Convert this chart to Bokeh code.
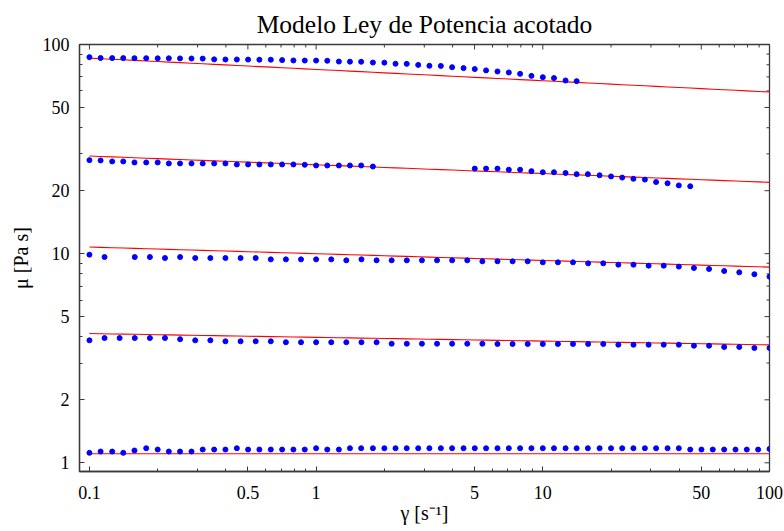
import math
from bokeh.plotting import figure
from bokeh.models import FixedTicker, Range1d, Title
from bokeh.embed import file_html
from bokeh.resources import INLINE

# shear-rate grids (20 and 15 points per decade)
x20 = [0.1, 0.112, 0.126, 0.141, 0.158, 0.178, 0.2, 0.224, 0.251, 0.282,
       0.316, 0.355, 0.398, 0.447, 0.501, 0.562, 0.631, 0.708, 0.794, 0.891,
       1.0, 1.12, 1.26, 1.41, 1.58, 1.78, 2.0, 2.24, 2.51, 2.82,
       3.16, 3.55, 3.98, 4.47, 5.01, 5.62, 6.31, 7.08, 7.94, 8.91,
       10.0, 11.2, 12.6, 14.1, 15.8, 17.8, 20.0, 22.4, 25.1, 28.2,
       31.6, 35.5, 39.8, 44.7, 50.1, 56.2, 63.1, 70.8, 79.4, 89.1, 100.0]
x15 = [0.1, 0.1166, 0.1359, 0.1585, 0.1848, 0.2154, 0.2512, 0.2929, 0.3415, 0.3981,
       0.4642, 0.5412, 0.631, 0.7356, 0.8577, 1.0, 1.166, 1.359, 1.585, 1.848,
       2.154, 2.512, 2.929, 3.415, 3.981, 4.642, 5.412, 6.31, 7.356, 8.577,
       10.0, 11.66, 13.59, 15.85, 18.48, 21.54, 25.12, 29.29, 34.15, 39.81,
       46.42, 54.12, 63.1, 73.56, 85.77, 100.0]

# series 1 (top)
g1 = x20[0:44]
mu1 = [87.0, 86.2, 86.1, 86.1, 86.0, 86.0, 85.9, 85.9, 85.8, 85.7,
       85.6, 84.9, 84.8, 84.8, 84.7, 84.6, 84.6, 84.2, 83.9, 83.8,
       83.8, 83.6, 82.9, 82.8, 82.7, 82.0, 81.9, 80.9, 80.8, 79.9,
       79.1, 79.0, 77.9, 77.1, 76.3, 75.2, 74.3, 73.5, 72.4, 70.8,
       69.8, 69.1, 67.3, 66.8]
# series 2 (two segments)
g2 = x20[0:26] + x20[34:54]
mu2 = [28.0, 27.9, 27.6, 27.6, 27.3, 27.3, 27.3, 27.0, 27.0, 27.0,
       27.0, 27.0, 27.0, 26.7, 26.7, 26.7, 26.7, 26.7, 26.7, 26.6,
       26.4, 26.4, 26.4, 26.4, 26.4, 26.1,
       25.5, 25.5, 25.5, 25.2, 25.2, 24.8, 24.5, 24.5, 24.3, 24.0,
       24.0, 23.7, 23.4, 23.1, 22.8, 22.6, 22.0, 21.7, 21.2, 21.0]
# series 3
g3 = x15[0:2] + x15[3:46]
mu3 = [9.89, 9.63, 9.63, 9.63, 9.53, 9.63, 9.53, 9.53, 9.53, 9.53,
       9.53, 9.39, 9.39, 9.39, 9.39, 9.39, 9.29, 9.39, 9.29, 9.29,
       9.29, 9.29, 9.29, 9.29, 9.29, 9.19, 9.19, 9.19, 9.19, 9.09,
       9.09, 9.09, 8.99, 8.99, 8.86, 8.86, 8.76, 8.76, 8.67, 8.54,
       8.45, 8.26, 8.14, 7.97, 7.76]
# series 4
g4 = x15
mu4 = [3.85, 3.95, 3.95, 3.95, 3.95, 3.95, 3.90, 3.85, 3.85, 3.81,
       3.81, 3.81, 3.81, 3.77, 3.77, 3.77, 3.77, 3.77, 3.77, 3.77,
       3.71, 3.71, 3.71, 3.71, 3.71, 3.71, 3.71, 3.70, 3.70, 3.70,
       3.70, 3.70, 3.70, 3.70, 3.70, 3.67, 3.67, 3.67, 3.67, 3.67,
       3.63, 3.63, 3.58, 3.58, 3.54, 3.54]
# series 5 (bottom)
g5 = x20
mu5 = [1.116, 1.132, 1.132, 1.116, 1.145, 1.174, 1.157, 1.132, 1.132, 1.132,
       1.157, 1.157, 1.157, 1.174, 1.157, 1.157, 1.157, 1.157, 1.157, 1.157,
       1.174, 1.157, 1.157, 1.174, 1.174, 1.174, 1.174, 1.174, 1.174, 1.174,
       1.174, 1.174, 1.174, 1.174, 1.174, 1.174, 1.174, 1.174, 1.174, 1.174,
       1.174, 1.174, 1.174, 1.174, 1.174, 1.174, 1.174, 1.174, 1.174, 1.174,
       1.174, 1.174, 1.174, 1.157, 1.157, 1.157, 1.157, 1.157, 1.157, 1.157, 1.165]

# bounded power-law fits: mu = K * gamma^(n-1)
K_fit = [76.0, 26.6, 9.99, 3.98, 1.104]
n_fit = [0.946, 0.958, 0.968, 0.982, 1.0]

x_major = [0.1, 0.5, 1, 5, 10, 50, 100]
x_minor = [0.2, 0.3, 0.4, 0.6, 0.7, 0.8, 0.9, 2, 3, 4, 6, 7, 8, 9,
           20, 30, 40, 60, 70, 80, 90]
y_major = [1, 2, 5, 10, 20, 50, 100]
y_minor = [3, 4, 6, 7, 8, 9, 30, 40, 60, 70, 80, 90]

FONT = "Liberation Serif"
X0, X1 = 0.0904, 100
Y0, Y1 = 0.9087, 100
FRAME = "#3a3a3a"

p = figure(x_axis_type="log", y_axis_type="log",
           x_range=Range1d(X0, X1), y_range=Range1d(Y0, Y1),
           frame_width=690, frame_height=427,
           min_border_left=79, min_border_right=14, min_border_top=44, min_border_bottom=59,
           output_backend="svg", toolbar_location=None, title=None,
           background_fill_color="white", border_fill_color="white")
p.grid.visible = False
p.outline_line_color = FRAME
p.outline_line_width = 1.3

def style(ax):
    ax.axis_line_color = FRAME
    ax.axis_line_width = 1.3
    ax.major_tick_in = 5
    ax.major_tick_out = 0
    ax.minor_tick_in = 3
    ax.minor_tick_out = 0
    ax.major_tick_line_color = FRAME
    ax.minor_tick_line_color = FRAME
    ax.major_tick_line_width = 1
    ax.minor_tick_line_width = 1
    ax.major_label_text_font = FONT
    ax.major_label_text_font_size = "18px"
    ax.major_label_text_color = "black"
    ax.axis_label_text_font = FONT
    ax.axis_label_text_font_size = "20px"
    ax.axis_label_text_font_style = "normal"
    ax.axis_label_text_color = "black"

xa = p.xaxis[0]
xa.ticker = FixedTicker(ticks=x_major, minor_ticks=x_minor)
xa.major_label_overrides = {0.1: "0.1", 0.5: "0.5", 1: "1", 5: "5", 10: "10", 50: "50", 100: "100"}
style(xa)
xa.major_label_standoff = 14
xa.axis_label = "γ [s⁻¹]"
xa.axis_label_standoff = 0

ya = p.yaxis[0]
ya.ticker = FixedTicker(ticks=y_major, minor_ticks=y_minor)
ya.major_label_overrides = {1: "1", 2: "2", 5: "5", 10: "10", 20: "20", 50: "50", 100: "100"}
style(ya)
ya.major_label_standoff = 10
ya.axis_label = "μ [Pa s]"
ya.axis_label_standoff = 8

# inward frame ticks on the top and right edges (no labels)
p.ray(x=x_major, y=[Y1] * len(x_major), length=5, length_units="screen",
      angle=-math.pi / 2, line_color=FRAME, line_width=1)
p.ray(x=x_minor, y=[Y1] * len(x_minor), length=3, length_units="screen",
      angle=-math.pi / 2, line_color=FRAME, line_width=1)
p.ray(x=[X1] * len(y_major), y=y_major, length=5, length_units="screen",
      angle=math.pi, line_color=FRAME, line_width=1)
p.ray(x=[X1] * len(y_minor), y=y_minor, length=3, length_units="screen",
      angle=math.pi, line_color=FRAME, line_width=1)

p.add_layout(Title(text="Modelo Ley de Potencia acotado", align="center",
                   text_font=FONT, text_font_size="25.5px", text_font_style="normal",
                   text_color="black", standoff=12), "above")

series = [(g1, mu1), (g2, mu2), (g3, mu3), (g4, mu4), (g5, mu5)]
for (g, mu), K, n in zip(series, K_fit, n_fit):
    fit = [K * xv ** (n - 1) for xv in x20]
    p.line(x20, fit, line_color="#ff0000", line_width=1.1)
    p.scatter(g, mu, size=5, fill_color="#0000ff", line_color="#0000ff")

open("out.html", "w").write(file_html(p, INLINE))
